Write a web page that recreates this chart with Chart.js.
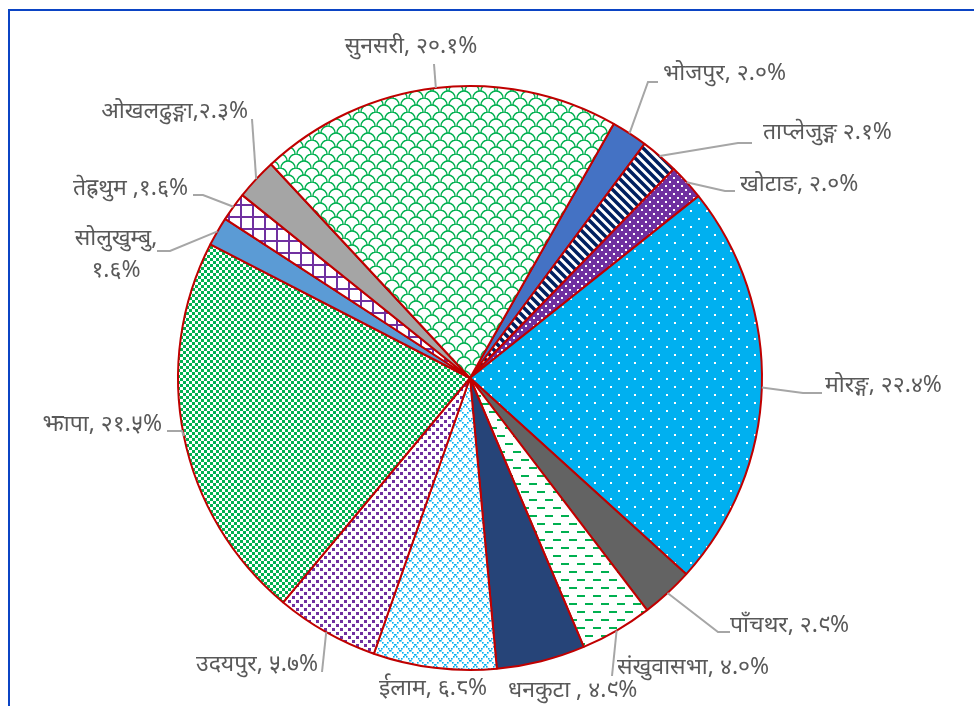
<!DOCTYPE html>
<html lang="ne">
<head>
  <meta charset="UTF-8">
  <title>जिल्लागत वितरण</title>
  <script src="https://cdn.jsdelivr.net/npm/chart.js"></script>
  <style>
    body {
      margin: 0;
      background: #fff;
      font-family: 'Noto Sans', sans-serif;
    }

    .frame {
      position: absolute;
      left: 8px;
      top: 9px;
      width: 1200px;
      height: 900px;
      border-left: 2px solid #0b44c4;
      border-top: 2px solid #0b44c4;
    }

    #pie {
      position: absolute;
      left: 0;
      top: 0;
    }
  </style>
</head>
<body>

<div class="frame"></div>
<canvas id="pie" width="974" height="706"></canvas>

<script>
  // जिल्ला (घडीको दिशामा)
  const districts = [
    'भोजपुर', 'ताप्लेजुङ्ग', 'खोटाङ', 'मोरङ्ग', 'पाँचथर', 'संखुवासभा', 'धनकुटा',
    'ईलाम', 'उदयपुर', 'झापा', 'सोलुखुम्बु', 'तेह्रथुम', 'ओखलढुङ्गा', 'सुनसरी'
  ];
  const shares = [2.0, 2.1, 2.0, 22.4, 2.9, 4.0, 4.9, 6.8, 5.7, 21.5, 1.6, 1.6, 2.3, 20.1];
  const labelTexts = [
    ['भोजपुर, २.०%'],
    ['ताप्लेजुङ्ग २.१%'],
    ['खोटाङ, २.०%'],
    ['मोरङ्ग, २२.४%'],
    ['पाँचथर, २.९%'],
    ['संखुवासभा, ४.०%'],
    ['धनकुटा , ४.९%'],
    ['ईलाम, ६.८%'],
    ['उदयपुर, ५.७%'],
    ['झापा, २१.५%'],
    ['सोलुखुम्बु,', '१.६%'],
    ['तेह्रथुम ,१.६%'],
    ['ओखलढुङ्गा,२.३%'],
    ['सुनसरी, २०.१%']
  ];

  // label placement: text anchor + leader line bends (after the arc edge point)
  const labelLayout = [
    { x: 663, y: 73, align: 'left', bends: [[648, 82], [658, 82]] },
    { x: 763, y: 132, align: 'left', bends: [[738, 143], [752, 143]] },
    { x: 740, y: 184, align: 'left', bends: [[725, 191], [735, 191]] },
    { x: 825, y: 385, align: 'left', bends: [[803, 393], [822, 393]] },
    { x: 730, y: 625, align: 'left', bends: [[718, 632], [730, 632]] },
    { x: 617, y: 667, align: 'left', bends: [[612, 676]] },
    { x: 508, y: 690, align: 'left', bends: null },
    { x: 487, y: 688, align: 'right', bends: null },
    { x: 318, y: 664, align: 'right', bends: [[322, 672]] },
    { x: 162, y: 424, align: 'right', bends: [[182, 431], [167, 431]] },
    { x: 116, y: 238, align: 'center', bends: [[170, 251], [157, 251]] },
    { x: 188, y: 188, align: 'right', bends: [[203, 195], [193, 195]] },
    { x: 248, y: 111, align: 'right', bends: [[252, 119]] },
    { x: 411, y: 46, align: 'center', bends: [[434, 64]] }
  ];

  function pat(w, h, bg, draw) {
    const c = document.createElement('canvas');
    c.width = w;
    c.height = h;
    const g = c.getContext('2d');
    if (bg) {
      g.fillStyle = bg;
      g.fillRect(0, 0, w, h);
    }
    draw(g);
    return g.createPattern(c, 'repeat');
  }

  const green = '#00b050';
  const purple = '#7030a0';

  const fills = [
    '#4472c4',
    pat(9, 9, '#fff', g => { // dark downward diagonal
      g.strokeStyle = '#002060';
      g.lineWidth = 3.5;
      g.beginPath();
      g.moveTo(-2, -2); g.lineTo(11, 11);
      g.moveTo(-2, 7); g.lineTo(2, 11);
      g.moveTo(7, -2); g.lineTo(11, 2);
      g.stroke();
    }),
    pat(8, 8, purple, g => {
      g.fillStyle = '#fff';
      g.fillRect(1, 1, 2, 2);
      g.fillRect(5, 5, 2, 2);
    }),
    pat(16, 16, '#00b0f0', g => {
      g.fillStyle = '#fff';
      g.fillRect(2, 2, 2, 2);
      g.fillRect(10, 10, 2, 2);
    }),
    '#636363',
    pat(16, 16, '#fff', g => {
      g.fillStyle = green;
      g.fillRect(1, 3, 8, 2);
      g.fillRect(9, 11, 8, 2);
      g.fillRect(-7, 11, 8, 2);
    }),
    '#264478',
    pat(10, 10, '#fff', g => { // dotted diamond
      g.fillStyle = '#00b0f0';
      for (let i = 0; i < 10; i += 2) {
        g.fillRect(i, i, 1.6, 1.6);
        g.fillRect(9 - i, i, 1.6, 1.6);
      }
    }),
    pat(8, 8, '#fff', g => {
      g.fillStyle = purple;
      g.fillRect(0, 0, 3, 3);
      g.fillRect(4, 4, 3, 3);
    }),
    pat(6, 6, '#fff', g => {
      g.fillStyle = green;
      g.fillRect(0, 0, 3, 3);
      g.fillRect(3, 3, 3, 3);
    }),
    '#5b9bd5',
    pat(12, 12, '#fff', g => {
      g.fillStyle = purple;
      g.fillRect(0, 0, 12, 2);
      g.fillRect(0, 0, 2, 12);
    }),
    '#a5a5a5',
    pat(16, 14, '#fff', g => { // shingle
      g.strokeStyle = green;
      g.lineWidth = 1.5;
      g.beginPath();
      g.arc(8, 7, 7, Math.PI, 2 * Math.PI);
      g.stroke();
      g.beginPath();
      g.arc(0, 14, 7, Math.PI, 2 * Math.PI);
      g.stroke();
      g.beginPath();
      g.arc(16, 14, 7, Math.PI, 2 * Math.PI);
      g.stroke();
    })
  ];

  const outerLabels = {
    id: 'outerLabels',
    afterDatasetsDraw(chart) {
      const ctx = chart.ctx;
      const arcs = chart.getDatasetMeta(0).data;
      ctx.save();
      ctx.strokeStyle = '#a6a6a6';
      ctx.lineWidth = 2;
      arcs.forEach((arc, i) => {
        const lay = labelLayout[i];
        if (lay.bends) {
          const mid = (arc.startAngle + arc.endAngle) / 2;
          ctx.beginPath();
          ctx.moveTo(arc.x + Math.cos(mid) * arc.outerRadius, arc.y + Math.sin(mid) * arc.outerRadius);
          lay.bends.forEach(p => ctx.lineTo(p[0], p[1]));
          ctx.stroke();
        }
      });
      ctx.fillStyle = '#595959';
      ctx.font = '23px "Noto Sans", sans-serif';
      ctx.textBaseline = 'middle';
      arcs.forEach((arc, i) => {
        const lay = labelLayout[i];
        ctx.textAlign = lay.align;
        labelTexts[i].forEach((t, k) => ctx.fillText(t, lay.x, lay.y + k * 32));
      });
      ctx.restore();
    }
  };

  new Chart(document.getElementById('pie').getContext('2d'), {
    type: 'pie',
    data: {
      labels: districts,
      datasets: [{
        data: shares,
        backgroundColor: fills,
        borderColor: '#c00000',
        borderWidth: 2
      }]
    },
    options: {
      responsive: false,
      animation: false,
      rotation: 29.5,
      layout: {
        padding: { left: 177, right: 211, top: 85, bottom: 35 }
      },
      plugins: {
        legend: { display: false },
        tooltip: { enabled: false }
      }
    },
    plugins: [outerLabels]
  });
</script>

</body>
</html>
